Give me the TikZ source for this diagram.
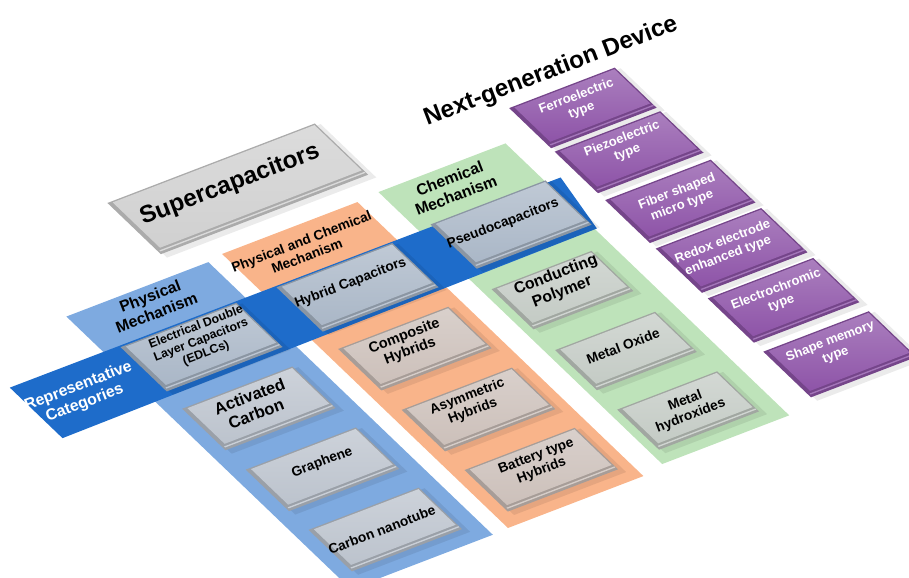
\documentclass[tikz,border=0pt]{standalone}
\usepackage{fontspec}
\setmainfont{Liberation Sans}
\usepackage{tikz}

\definecolor{physblue}{RGB}{126,170,224}
\definecolor{hybridorange}{RGB}{249,180,138}
\definecolor{chemgreen}{RGB}{190,227,186}
\definecolor{bandblue}{RGB}{30,108,202}
\definecolor{slabsuper}{RGB}{208,208,208}
\definecolor{slabblue}{RGB}{170,183,199}
\definecolor{slabsteel}{RGB}{188,195,205}
\definecolor{slabrose}{RGB}{204,192,186}
\definecolor{slabsage}{RGB}{196,203,197}
\definecolor{slabpurple}{RGB}{142,84,168}

% bevelled slab in plane coordinates: s1, t1, s2, t2, colour
\newcommand{\platebox}[5]{%
  \fill[black, opacity=0.08] (#1+0.2,#2+0.3) -- (#3+0.4,#2+0.3) -- (#3+0.4,#4+0.6) -- (#1+0.2,#4+0.6) -- cycle;
  \fill[#5!82!black] (#1,#2) -- (#3,#2) -- (#3,#4) -- (#1,#4) -- cycle;
  \fill[#5!80!white] (#1+0.2,#4-0.45) -- (#3-0.05,#4-0.45) -- (#3-0.05,#4-0.3) -- (#1+0.2,#4-0.3) -- cycle;
  \shade[top color=#5!75!white, bottom color=#5] (#1+0.45,#2+0.15) -- (#3-0.15,#2+0.15) -- (#3-0.15,#4-0.7) -- (#1+0.45,#4-0.7) -- cycle;
}

\begin{document}
\begin{tikzpicture}[
    lbl/.style={rotate=21, align=center, inner sep=0pt, text=black,
                font=\bfseries\fontsize{7.8}{8.8}\selectfont},
    biglbl/.style={lbl, font=\bfseries\fontsize{9}{10.2}\selectfont},
    smalllbl/.style={lbl, font=\bfseries\fontsize{7}{8}\selectfont},
    headlbl/.style={lbl, font=\bfseries\fontsize{13.8}{15}\selectfont},
    whitelbl/.style={lbl, text=white, font=\bfseries\fontsize{7.4}{8.4}\selectfont}
  ]
  \useasboundingbox (0,0) rectangle (18.18,-11.56);
  \begin{scope}[shift={(1.4,-6.4)}, x={(0.1868cm,0.0716cm)}, y={(0.1444cm,-0.1384cm)}]
    % columns
    \fill[physblue] (0,-0.5) -- (15.2,-0.5) -- (15.2,38.9) -- (0,38.9) -- cycle;
    \fill[hybridorange] (16.9,-0.8) -- (31.4,-0.8) -- (31.4,38.8) -- (16.9,38.8) -- cycle;
    \fill[chemgreen] (33.8,-1.0) -- (47.4,-1.0) -- (47.4,38.3) -- (33.8,38.3) -- cycle;
    % band
    \fill[bandblue] (-10,4.6) -- (48.9,4.7) -- (47.6,11.4) -- (-10,11.9) -- cycle;

    % main slab
    \platebox{12.2}{-10.6}{34.4}{-3.2}{slabsuper}

    % categories
    \platebox{1.7}{4.8}{14.1}{11.2}{slabblue}
    \platebox{18.4}{4.8}{30.8}{11.2}{slabblue}
    \platebox{35.2}{4.4}{47.5}{10.8}{slabblue}

    % materials
    \platebox{1.5}{13.6}{13.3}{19.6}{slabsteel}
    \platebox{1.5}{22.4}{13.3}{28.4}{slabsteel}
    \platebox{1.5}{31.1}{13.3}{37.1}{slabsteel}
    \platebox{18.2}{13.6}{30.0}{19.6}{slabrose}
    \platebox{18.2}{22.4}{30.0}{28.4}{slabrose}
    \platebox{18.2}{31.1}{30.0}{37.1}{slabrose}
    \platebox{34.7}{13.5}{45.4}{19.3}{slabsage}
    \platebox{34.7}{22.3}{45.4}{28.1}{slabsage}
    \platebox{34.7}{30.9}{45.4}{36.7}{slabsage}

    % devices
    \platebox{50.5}{-4.5}{61.8}{1.3}{slabpurple}
    \platebox{50.5}{1.8}{61.8}{7.8}{slabpurple}
    \platebox{50.5}{8.8}{61.8}{15.0}{slabpurple}
    \platebox{50.5}{15.8}{61.8}{22.2}{slabpurple}
    \platebox{50.5}{23.0}{61.8}{29.4}{slabpurple}
    \platebox{50.5}{30.7}{61.8}{37.3}{slabpurple}

    % texts
    \node[headlbl] (title) at (56.6,-6.6) {Next-generation Device};
    \node[headlbl] (super) at (23.0,-7.6) {Supercapacitors};
    \node[biglbl] (phys) at (7.6,1.7) {Physical\\Mechanism};
    \node[lbl] (physchem) at (23.6,1.9) {Physical and Chemical\\Mechanism};
    \node[biglbl] (chem) at (39.9,1.4) {Chemical\\Mechanism};
    \node[biglbl, text=white] (repr) at (-5.1,8.2) {Representative\\Categories};
    \node[smalllbl] (edlc) at (8.4,7.3) {Electrical Double\\Layer Capacitors\\(EDLCs)};
    \node[lbl] (hybrid) at (24.4,7.3) {Hybrid Capacitors};
    \node[lbl] (pseudo) at (40.8,7.2) {Pseudocapacitors};
    \node[biglbl, font=\bfseries\fontsize{9.4}{10.6}\selectfont] (actcarbon) at (7.2,16.0) {Activated\\Carbon};
    \node[lbl] (graphene) at (7.9,24.7) {Graphene};
    \node[lbl] (nanotube) at (7.1,34.0) {Carbon nanotube};
    \node[lbl, font=\bfseries\fontsize{8.2}{9.2}\selectfont] (composite) at (23.9,15.8) {Composite\\Hybrids};
    \node[lbl] (asym) at (23.9,24.5) {Asymmetric\\Hybrids};
    \node[lbl] (battery) at (24.4,33.4) {Battery type\\Hybrids};
    \node[biglbl] (polymer) at (40.3,15.6) {Conducting\\Polymer};
    \node[lbl] (oxide) at (40.2,24.6) {Metal Oxide};
    \node[lbl] (hydroxide) at (40.2,33.6) {Metal\\hydroxides};
    \node[whitelbl] (ferro) at (56.2,-2.2) {Ferroelectric\\type};
    \node[whitelbl] (piezo) at (56.3,4.0) {Piezoelectric\\type};
    \node[whitelbl] (fiber) at (56.3,11.6) {Fiber shaped\\micro type};
    \node[whitelbl] (redox) at (55.8,18.6) {Redox electrode\\enhanced type};
    \node[whitelbl] (electro) at (56.1,25.6) {Electrochromic\\type};
    \node[whitelbl] (shape) at (56.1,33.1) {Shape memory\\type};
  \end{scope}
\end{tikzpicture}
\end{document}
